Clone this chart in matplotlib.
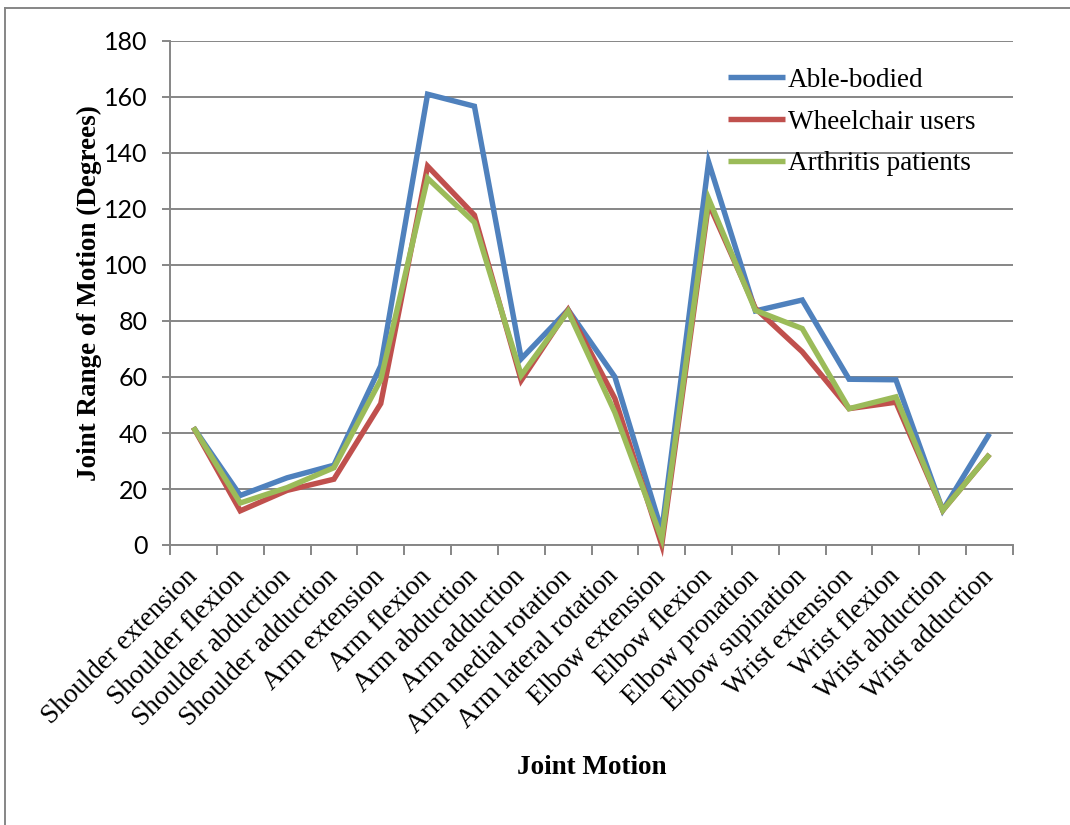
import matplotlib
matplotlib.use("Agg")
import matplotlib.pyplot as plt
from matplotlib.lines import Line2D
import numpy as np

motions = [
    "Shoulder extension", "Shoulder flexion", "Shoulder abduction",
    "Shoulder adduction", "Arm extension", "Arm flexion", "Arm abduction",
    "Arm adduction", "Arm medial rotation", "Arm lateral rotation",
    "Elbow extension", "Elbow flexion", "Elbow pronation",
    "Elbow supination", "Wrist extension", "Wrist flexion",
    "Wrist abduction", "Wrist adduction",
]

able_bodied = [42, 17.7, 24, 28.5, 64, 161, 156.7, 66.5, 84, 60,
               5, 136.8, 83.6, 87.5, 59.2, 59, 12.4, 39.8]
wheelchair = [42, 12.2, 19.5, 23.5, 50.5, 135.3, 117.8, 58.8, 84, 52.3,
              0, 122, 84.5, 69, 48.7, 51, 12.4, 32.4]
arthritis = [42, 15, 20.5, 27.6, 59, 131, 115.2, 60.6, 83.5, 47.3,
             2.2, 123.7, 83.8, 77.3, 48.7, 52.9, 12.4, 32.4]

series = [
    ("Able-bodied", able_bodied, "#4F81BD"),
    ("Wheelchair users", wheelchair, "#C0504D"),
    ("Arthritis patients", arthritis, "#9BBB59"),
]

serif = ["Liberation Serif", "DejaVu Serif"]
grid_col = "#868686"
fs = 19.5

fig = plt.figure(figsize=(10.7, 8.25), dpi=100)
ax = fig.add_axes([170 / 1070, 1 - 545 / 825, (1013 - 170) / 1070, (545 - 41) / 825])

x = np.arange(len(motions))
for name, vals, col in series:
    ax.plot(x, vals, color=col, lw=3.9, label=name, solid_joinstyle="miter",
            solid_capstyle="butt", clip_on=False, zorder=3)

ax.set_xlim(-0.5, len(motions) - 0.5)
ax.set_ylim(0, 180)
ax.set_yticks(np.arange(0, 181, 20))
ax.yaxis.grid(True, color=grid_col, lw=1.4)
ax.set_axisbelow(True)

for s in ("top", "right"):
    ax.spines[s].set_visible(False)
for s in ("left", "bottom"):
    ax.spines[s].set_color(grid_col)
    ax.spines[s].set_linewidth(1.4)

# category labels at centres, tick marks between categories
ax.set_xticks(x)
ax.set_xticks(np.arange(-0.5, len(motions), 1), minor=True)
ax.tick_params(axis="x", which="major", length=0, pad=20)
ax.tick_params(axis="x", which="minor", length=7, width=1.4, color=grid_col, direction="out")
ax.tick_params(axis="y", length=6, width=1.4, color=grid_col, pad=10)
ax.set_xticklabels(motions, rotation=45, ha="right", va="center",
                   rotation_mode="anchor", family=serif, fontsize=fs)
for lbl in ax.get_yticklabels():
    lbl.set_family(["Lato", "DejaVu Sans"])
    lbl.set_fontsize(18)

ax.set_ylabel("Joint Range of Motion (Degrees)", family=serif, fontsize=fs,
              fontweight="bold")
ax.yaxis.set_label_coords(-0.081, 0.5)
ax.set_xlabel("Joint Motion", family=serif, fontsize=fs, fontweight="bold")
ax.xaxis.set_label_coords(0.5, -0.416)

ax.legend(loc="upper left", bbox_to_anchor=(0.633, 0.995), frameon=False,
          prop={"family": serif, "size": fs}, handlelength=2.1,
          handletextpad=0.12, labelspacing=0.62)

# outer chart frame
fig.add_artist(Line2D([5 / 1070, 1.0], [1 - 8 / 825] * 2, color=grid_col, lw=1.4))
fig.add_artist(Line2D([5 / 1070] * 2, [0, 1 - 8 / 825], color=grid_col, lw=1.4))

fig.savefig("out.png", dpi=100)
